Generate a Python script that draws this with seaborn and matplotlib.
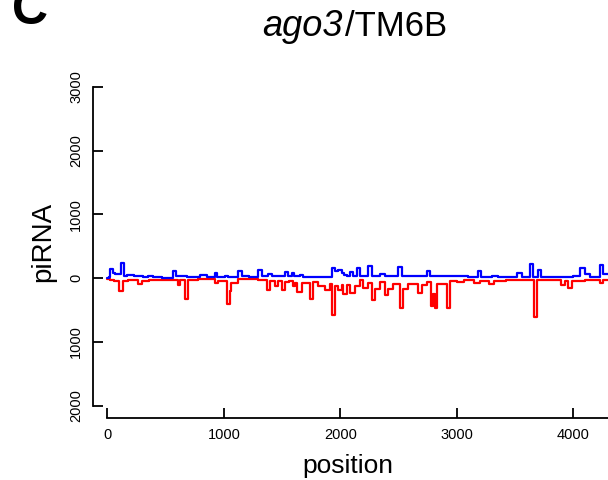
import matplotlib
matplotlib.use('Agg')
import matplotlib.pyplot as plt
import seaborn as sns
import pandas as pd

# sense (blue) piRNA coverage, step values
blue_pos = [0, 15, 23, 46, 66, 118, 143, 170, 230, 307, 349, 392, 470, 561, 590, 680,
            796, 856, 925, 942, 1010, 1036, 1122, 1156, 1220, 1294, 1328, 1379, 1414,
            1525, 1551, 1585, 1603, 1654, 1680, 1800, 1929, 1955, 1980, 2015, 2032,
            2058, 2083, 2109, 2143, 2169, 2238, 2272, 2341, 2384, 2495, 2530, 2744,
            2770, 2900, 3000, 3100, 3182, 3208, 3300, 3350, 3520, 3560, 3629, 3654,
            3697, 3723, 4000, 4057, 4100, 4143, 4229, 4255, 4300]
blue_val = [5, 10, 140, 75, 60, 230, 40, 55, 30, 10, 35, 10, 5, 115, 30, 15,
            47, 20, 83, 25, 40, 20, 110, 35, 25, 126, 30, 70, 30,
            94, 30, 80, 30, 47, 20, 25, 162, 110, 126, 80, 55,
            30, 94, 30, 152, 30, 194, 40, 70, 30, 167, 30, 110,
            40, 30, 40, 25, 110, 25, 35, 20, 78, 20, 215, 15,
            126, 15, 40, 152, 70, 20, 200, 70, 70]

# antisense (red) piRNA coverage, plotted as negative values
red_pos = [0, 20, 60, 100, 132, 180, 264, 299, 360, 452, 607, 624, 667, 693, 780,
           925, 950, 1027, 1053, 1060, 1122, 1294, 1370, 1396, 1440, 1465, 1500,
           1525, 1560, 1595, 1611, 1628, 1671, 1740, 1766, 1809, 1868, 1911, 1929,
           1955, 1980, 2015, 2024, 2058, 2083, 2126, 2169, 2195, 2238, 2272, 2298,
           2341, 2384, 2410, 2453, 2513, 2538, 2581, 2667, 2701, 2744, 2779, 2800,
           2810, 2830, 2916, 2942, 3000, 3060, 3150, 3200, 3280, 3320, 3420, 3660,
           3690, 3895, 3930, 3955, 3989, 4100, 4229, 4255, 4300]
red_val = [-15, -31, -45, -204, -40, -30, -99, -45, -35, -25, -110, -25, -320, -25, -20,
           -83, -40, -413, -200, -83, -16, -30, -188, -40, -130, -50, -188,
           -60, -40, -130, -70, -220, -80, -320, -60, -130, -188, -100, -580,
           -120, -188, -110, -250, -110, -240, -130, -31, -150, -80, -345, -170,
           -60, -267, -170, -100, -470, -170, -100, -230, -110, -60, -430, -250,
           -470, -100, -475, -45, -60, -35, -80, -40, -90, -40, -30, -607,
           -30, -110, -40, -160, -40, -30, -83, -25, -25]

y_ticks = [-2000, -1000, 0, 1000, 2000, 3000]
y_tick_labels = ['2000', '1000', '0', '1000', '2000', '3000']
x_ticks = [0, 1000, 2000, 3000, 4000]

sns.set_style('white')
plt.rcParams['font.family'] = ['Liberation Sans', 'DejaVu Sans']
plt.rcParams['text.color'] = 'black'
plt.rcParams['axes.labelcolor'] = 'black'
plt.rcParams['xtick.color'] = 'black'
plt.rcParams['ytick.color'] = 'black'

blue_df = pd.DataFrame({'position': blue_pos, 'piRNA': blue_val})
red_df = pd.DataFrame({'position': red_pos, 'piRNA': red_val})

fig = plt.figure(figsize=(6.08, 4.8), dpi=100)
ax = fig.add_axes([93 / 608, 61.7 / 480, 527 / 608, 344.1 / 480])

sns.lineplot(data=red_df, x='position', y='piRNA', color='#ff0000', linewidth=1.6,
             drawstyle='steps-post', estimator=None, sort=False, ax=ax)
sns.lineplot(data=blue_df, x='position', y='piRNA', color='#0000ff', linewidth=1.6,
             drawstyle='steps-post', estimator=None, sort=False, ax=ax)

ax.set_xlim(-123, 4401)
ax.set_ylim(-2200, 3200)
ax.set_xticks(x_ticks)
ax.set_xticklabels([str(t) for t in x_ticks])
ax.set_yticks(y_ticks)
ax.set_yticklabels(y_tick_labels, rotation=90, va='center')
ax.set_xlabel('')
ax.set_ylabel('')

for side in ['top', 'right']:
    ax.spines[side].set_visible(False)
for side in ['left', 'bottom']:
    ax.spines[side].set_color('black')
    ax.spines[side].set_linewidth(1.3)
ax.spines['left'].set_bounds(-2000, 3000)
ax.spines['bottom'].set_bounds(0, 4401)
ax.tick_params(direction='in', length=7.5, width=1.3, color='black',
               labelsize=10.5, labelcolor='black', left=True, bottom=True)
ax.tick_params(axis='y', pad=7)
ax.tick_params(axis='x', pad=7)
ax.grid(False)

# titles and axis labels
fig.text(12 / 608, 1 - 24 / 480, 'C', fontsize=36, fontweight='bold', va='baseline', ha='left')
fig.text(262 / 608, 1 - 36 / 480, 'ago3', fontsize=26, style='italic', va='baseline', ha='left')
fig.text(345 / 608, 1 - 36 / 480, '/TM6B', fontsize=25, va='baseline', ha='left')
fig.text(43 / 608, 1 - 242 / 480, 'piRNA', fontsize=20, rotation=90, va='center', ha='center')
fig.text(348 / 608, 1 - 466 / 480, 'position', fontsize=19, va='center', ha='center')

fig.savefig('out.png', dpi=100)
